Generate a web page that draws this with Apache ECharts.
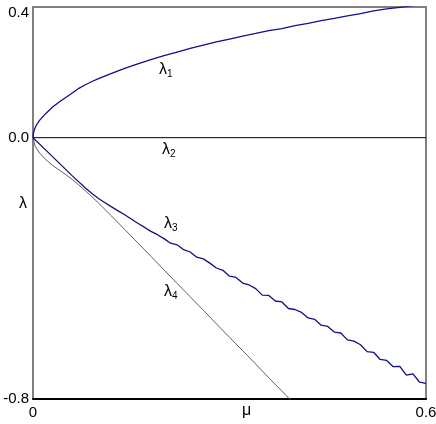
<!DOCTYPE html>
<html>
<head>
<meta charset="utf-8">
<script src="https://cdn.jsdelivr.net/npm/echarts@6/dist/echarts.min.js"></script>
<style>
  html, body { margin: 0; padding: 0; background: #fff; }
  #chart { width: 436px; height: 424px; }
</style>
</head>
<body>
<div id="chart"></div>
<script>
  // values
  var mu1 = [0, 0.0005, 0.001, 0.002, 0.005, 0.01, 0.02, 0.03, 0.04, 0.05, 0.06, 0.07, 0.08, 0.09, 0.10,
    0.12, 0.14, 0.16, 0.18, 0.20, 0.22, 0.24, 0.26, 0.28, 0.30, 0.32, 0.34, 0.36, 0.38,
    0.40, 0.42, 0.44, 0.46, 0.48, 0.50, 0.52, 0.54, 0.56, 0.58, 0.60];
  var lambda1 = [0, 0.012, 0.017, 0.024, 0.038, 0.053, 0.075, 0.094, 0.109, 0.123, 0.137, 0.151, 0.162, 0.172, 0.181,
    0.197, 0.212, 0.226, 0.239, 0.251, 0.262, 0.273, 0.283, 0.293, 0.302, 0.311, 0.319, 0.328, 0.334,
    0.343, 0.350, 0.358, 0.365, 0.373, 0.380, 0.388, 0.394, 0.399, 0.404, 0.410];

  var mu2 = [0, 0.6];
  var lambda2 = [0, 0];

  var mu3 = [0, 0.02, 0.04, 0.06, 0.08, 0.09, 0.10, 0.11, 0.12, 0.13, 0.14, 0.15, 0.16, 0.17, 0.18,
    0.19, 0.20, 0.21, 0.22, 0.23, 0.24, 0.25, 0.26, 0.27, 0.28, 0.29, 0.30, 0.31, 0.32, 0.33, 0.34,
    0.35, 0.36, 0.37, 0.38, 0.39, 0.40, 0.41, 0.42, 0.43, 0.44, 0.45, 0.46, 0.47, 0.48, 0.49, 0.50,
    0.51, 0.52, 0.53, 0.54, 0.55, 0.56, 0.57, 0.58, 0.59, 0.60];
  var lambda3 = [0, -0.039, -0.078, -0.117, -0.154, -0.171, -0.186, -0.199, -0.212, -0.224, -0.236, -0.249, -0.262, -0.274, -0.287,
    -0.297, -0.309, -0.323, -0.328, -0.343, -0.350, -0.366, -0.371, -0.384, -0.399, -0.406, -0.424, -0.428, -0.445, -0.451, -0.462,
    -0.482, -0.483, -0.500, -0.503, -0.523, -0.526, -0.535, -0.552, -0.556, -0.574, -0.578, -0.595, -0.598, -0.619, -0.623, -0.634,
    -0.655, -0.657, -0.679, -0.682, -0.701, -0.700, -0.727, -0.723, -0.748, -0.752];

  var mu4 = [0, 0.003, 0.01, 0.02, 0.03, 0.04, 0.05, 0.06, 0.07, 0.08, 0.09, 0.10, 0.12, 0.14, 0.16,
    0.18, 0.20, 0.22, 0.24, 0.26, 0.28, 0.30, 0.32, 0.34, 0.36, 0.38, 0.40];
  var lambda4 = [0, -0.025, -0.047, -0.068, -0.085, -0.099, -0.113, -0.128, -0.145, -0.163, -0.181, -0.200, -0.240, -0.281, -0.322,
    -0.363, -0.405, -0.446, -0.487, -0.528, -0.570, -0.611, -0.652, -0.693, -0.735, -0.776, -0.817];

  function pairs(xs, ys) {
    return xs.map(function (x, i) { return [x, ys[i]]; });
  }

  var blue = '#10108c';
  var font = 'Liberation Sans, Arial, sans-serif';

  // λ with a subscript
  function lam(sub, x, y) {
    return {
      type: 'text', left: x, top: y,
      style: {
        text: '{l|λ}{s|' + sub + '}',
        rich: {
          l: { fontSize: 16, fontFamily: font, fill: '#000' },
          s: { fontSize: 10, fontFamily: font, fill: '#000', padding: [8, 0, 0, 0] }
        }
      }
    };
  }

  var myChart = echarts.init(document.getElementById('chart'));
  var option = {
    animation: false,
    grid: {
      left: 33, right: 10, top: 7, bottom: 25,
      outerBoundsMode: 'none',
      show: true, borderColor: '#808080', borderWidth: 2
    },
    xAxis: {
      type: 'value', min: 0, max: 0.6, interval: 0.3,
      axisLine: { show: true, onZero: false, lineStyle: { color: '#000', width: 2 } },
      axisTick: { show: false },
      splitLine: { show: false },
      axisLabel: {
        margin: 6, color: '#000', fontSize: 15, fontFamily: font,
        formatter: function (v) {
          if (Math.abs(v - 0.3) < 1e-6) return '';
          return v === 0 ? '0' : v.toFixed(1);
        }
      }
    },
    yAxis: {
      type: 'value', min: -0.8, max: 0.4, interval: 0.4,
      axisLine: { show: true, onZero: false, lineStyle: { color: '#808080', width: 2 } },
      axisTick: { show: false },
      splitLine: { show: false },
      axisLabel: {
        margin: 4, color: '#000', fontSize: 15, fontFamily: font,
        formatter: function (v) {
          if (Math.abs(v + 0.4) < 1e-6) return '';
          if (Math.abs(v - 0.4) < 1e-6) return '{t|0.4}';
          return v.toFixed(1);
        },
        rich: { t: { fontSize: 15, fontFamily: font, color: '#000', padding: [12, 0, 0, 0] } }
      }
    },
    graphic: [
      lam('1', 159, 62),
      lam('2', 162, 142),
      lam('3', 164, 216),
      lam('4', 164, 284),
      { type: 'text', left: 19, top: 196,
        style: { text: 'λ', fontSize: 16, fontFamily: font, fill: '#000' } },
      { type: 'text', left: 242, top: 403,
        style: { text: 'μ', fontSize: 16, fontFamily: font, fill: '#000' } }
    ],
    series: [
      {
        name: 'λ2', type: 'line', data: pairs(mu2, lambda2), showSymbol: false,
        lineStyle: { color: '#000', width: 1 }, z: 1
      },
      {
        name: 'λ4', type: 'line', data: pairs(mu4, lambda4), showSymbol: false,
        lineStyle: { color: '#606060', width: 1 }, z: 2
      },
      {
        name: 'λ3', type: 'line', data: pairs(mu3, lambda3), showSymbol: false,
        lineStyle: { color: blue, width: 1.3 }, z: 3
      },
      {
        name: 'λ1', type: 'line', data: pairs(mu1, lambda1), showSymbol: false,
        lineStyle: { color: blue, width: 1.3 }, z: 3
      }
    ]
  };
  myChart.setOption(option);
</script>
</body>
</html>
